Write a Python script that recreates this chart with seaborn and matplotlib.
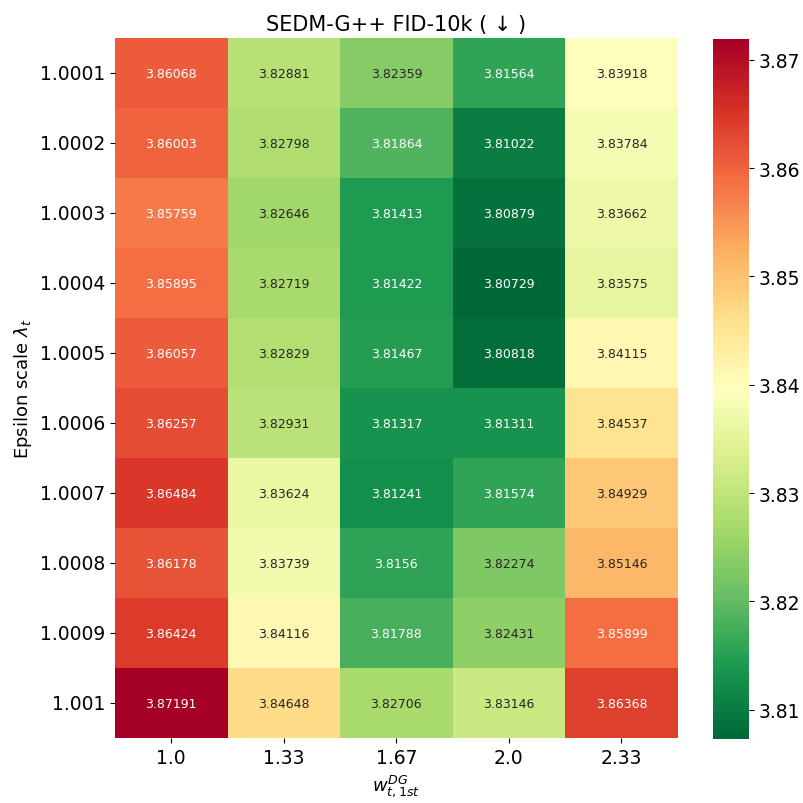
import numpy as np
import pandas as pd
import matplotlib
matplotlib.use("Agg")
import matplotlib.pyplot as plt
import seaborn as sns

x_labels = ["1.0", "1.33", "1.67", "2.0", "2.33"]
y_labels = ["1.0001", "1.0002", "1.0003", "1.0004", "1.0005",
            "1.0006", "1.0007", "1.0008", "1.0009", "1.001"]

col_10 = [3.86068, 3.86003, 3.85759, 3.85895, 3.86057, 3.86257, 3.86484, 3.86178, 3.86424, 3.87191]
col_133 = [3.82881, 3.82798, 3.82646, 3.82719, 3.82829, 3.82931, 3.83624, 3.83739, 3.84116, 3.84648]
col_167 = [3.82359, 3.81864, 3.81413, 3.81422, 3.81467, 3.81317, 3.81241, 3.8156, 3.81788, 3.82706]
col_20 = [3.81564, 3.81022, 3.80879, 3.80729, 3.80818, 3.81311, 3.81574, 3.82274, 3.82431, 3.83146]
col_233 = [3.83918, 3.83784, 3.83662, 3.83575, 3.84115, 3.84537, 3.84929, 3.85146, 3.85899, 3.86368]

df = pd.DataFrame({x_labels[0]: col_10, x_labels[1]: col_133, x_labels[2]: col_167,
                   x_labels[3]: col_20, x_labels[4]: col_233}, index=y_labels)

fig = plt.figure(figsize=(8.04, 8.04), dpi=100)
ax = fig.add_axes([0.143, 0.0808, 0.700, 0.8706])
cax = fig.add_axes([0.8868, 0.0796, 0.0448, 0.8706])
sns.heatmap(df, ax=ax, cbar_ax=cax, cmap="RdYlGn_r", annot=True, fmt="g",
            annot_kws={"fontsize": 9})
ax.set_title("SEDM-G++ FID-10k ( ↓ )", fontsize=15)
ax.set_xlabel(r"$w_{t,1st}^{DG}$", fontsize=13)
ax.set_ylabel(r"Epsilon scale $\lambda_t$", fontsize=13)
ax.tick_params(axis="both", labelsize=13.5)
ax.set_yticklabels(y_labels, rotation=0)
cax.tick_params(labelsize=13.5)
fig.savefig("out.png", dpi=100)
